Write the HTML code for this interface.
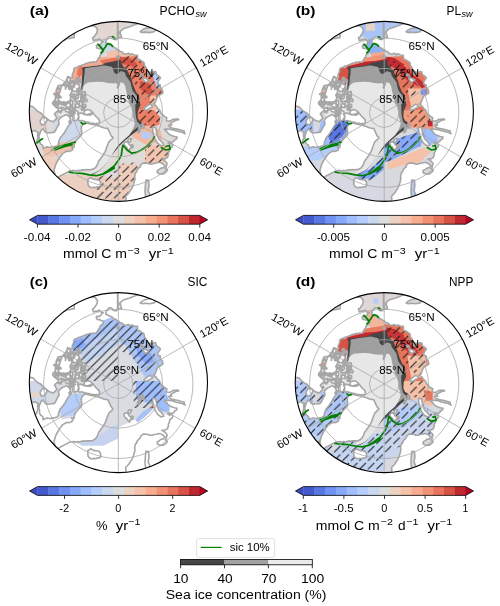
<!DOCTYPE html>
<html><head><meta charset="utf-8"><style>html,body{margin:0;padding:0;background:#fff;overflow:hidden}svg{display:block;font-family:"Liberation Sans",sans-serif;font-kerning:none;will-change:transform}</style></head><body>
<svg width="500" height="606" viewBox="0 0 500 606" font-family="Liberation Sans, sans-serif"><defs><clipPath id="clip0"><ellipse cx="118.4" cy="111.4" rx="89.1" ry="90.0"/></clipPath><clipPath id="clip1"><ellipse cx="384.3" cy="111.4" rx="89.1" ry="90.0"/></clipPath><clipPath id="clip2"><ellipse cx="118.4" cy="382.6" rx="89.1" ry="90.0"/></clipPath><clipPath id="clip3"><ellipse cx="384.3" cy="382.6" rx="89.1" ry="90.0"/></clipPath></defs>
<defs><path id="land" d="M-93.9,-78.8 L-91.9,-78.5 L-90,-78.2 L-88.1,-77.9 L-86.2,-77.6 L-84.3,-77.2 L-82.4,-76.8 L-80.5,-76.4 L-78.7,-76 L-76.9,-75.5 L-75.1,-75.1 L-73.5,-74.4 L-71.9,-73.6 L-70.4,-72.9 L-68.9,-72.1 L-67.3,-71.4 L-65.8,-70.6 L-63.5,-70.6 L-61.3,-70.5 L-59,-70.3 L-57,-70.8 L-55.4,-72.2 L-53.4,-72.7 L-51.7,-73.9 L-50,-74.2 L-48.3,-74.3 L-46.3,-75 L-44.2,-75 L-44.1,-76.9 L-44,-78.8 L-43.8,-80.7 L-44.2,-82.3 L-44.6,-83.8 L-43.3,-86.3 L-42,-88.7 L-41.3,-89.9 L-40.6,-91.1 L-39.6,-92.5 L-38.4,-93.8 L-36.9,-94.8 L-36.1,-96.4 L-35,-97.9 L-33.6,-99 L-32.3,-100.3 L-31,-101.5 L-32,-100.5 L-32.7,-99.3 L-34.4,-97 L-35.9,-94.8 L-37.4,-92.5 L-37.2,-90.6 L-37,-88.7 L-36.9,-86.8 L-35.1,-87.1 L-33.9,-88.4 L-32.4,-89.1 L-30.9,-89.8 L-29.6,-88.5 L-28.4,-87.3 L-26.9,-87.5 L-25.6,-86.7 L-24.1,-86.9 L-22.5,-85.7 L-21.6,-84.4 L-20.7,-83 L-21.2,-81.2 L-21.6,-79.5 L-22.7,-78.2 L-23.5,-76.7 L-24.4,-75.6 L-25.8,-75 L-25.3,-73.5 L-24.8,-72 L-22.3,-72.9 L-20.5,-72.8 L-19.1,-73.8 L-17.3,-72 L-15,-71.2 L-16.6,-70.5 L-17.2,-68.8 L-19.3,-67.3 L-21.9,-67.5 L-21.7,-65 L-20.2,-64.2 L-18.5,-64.4 L-16.8,-63.1 L-14.7,-62.8 L-15,-60.9 L-16.2,-59.4 L-17.8,-58.2 L-18.5,-56.9 L-18.5,-55.4 L-19.9,-54.7 L-20.4,-53.2 L-21.4,-52 L-22,-50.6 L-23.4,-50.7 L-24.8,-50.9 L-26.4,-50.2 L-28,-50.6 L-29.5,-50 L-31,-49.6 L-32.5,-49.1 L-33.9,-48.4 L-35.9,-47.7 L-37.9,-46.8 L-39.7,-46.7 L-40.9,-45.5 L-43.3,-44.9 L-44.6,-43.4 L-44.5,-41.5 L-45.2,-40 L-45.9,-38.6 L-46.2,-36.9 L-45.4,-35.4 L-46.8,-34.9 L-48.3,-35.1 L-51,-34.4 L-52,-33 L-52.2,-31.4 L-53.4,-30.5 L-54.4,-29.6 L-55.1,-28.1 L-56.6,-27.6 L-58.5,-27.3 L-60.3,-26.9 L-61.2,-24.7 L-62.1,-22.6 L-62.2,-20.2 L-62.3,-17.9 L-62.6,-16.1 L-62.3,-14.4 L-63.1,-13 L-64.1,-11.9 L-65.3,-10.8 L-65.7,-9.2 L-64.8,-7.8 L-63.6,-6.7 L-62.2,-5.4 L-60.7,-4.2 L-59.2,-4.4 L-57.7,-4.5 L-56.2,-4.7 L-54.6,-4.8 L-53.2,-4.2 L-54.7,-3.1 L-56.3,-2 L-57.8,-1.9 L-59.3,-1.7 L-60.9,-1.6 L-62.4,-0.3 L-63.9,1.1 L-62.6,3.3 L-61.3,5.4 L-63.1,7.2 L-64.8,9.1 L-66.4,8.5 L-68,8 L-69.7,7.3 L-71.3,6 L-73,4.7 L-74.6,3.3 L-76.2,1.7 L-77.7,0 L-79.3,-0.7 L-80.8,-1.4 L-82.3,-2.9 L-83.8,-4.4 L-85.3,-6 L-86.8,-6.3 L-88.4,-6.7 L-89.9,-7.1 L-92,-7 L-94.1,-6.9 L-95.9,-6.1 L-97.8,-5.2 L-99.6,-4.4 L-99.9,-2.7 L-101.3,-1.8 L-102.1,-0.4 L-102.9,0.9 L-104.2,2 L-104.5,3.6 L-106.1,4.2 L-107.7,4.8 L-109.3,5.4 L-110.9,6 L-112.5,6.6 L-114.1,7.2 L-115.7,7.9 L-117.3,8.6 L-118.9,9.3 L-120.5,10 L-122.1,10.7 L-121.5,12.3 L-121.5,14 L-121.5,15.6 L-121.8,17.4 L-120.6,18.9 L-120.8,20.6 L-120.6,22.2 L-119.8,23.8 L-119.9,25.5 L-118.2,25.1 L-116.6,24.8 L-115,24.4 L-113.4,24.1 L-111.8,23.8 L-110.2,23.4 L-108.6,23.1 L-107,22.7 L-105.4,22.4 L-103.8,22.1 L-102.3,21.7 L-100.7,21.4 L-99.1,21.1 L-97.6,20.7 L-96,20.4 L-94.4,20.1 L-92.8,19.9 L-91.2,19.8 L-89.7,19.7 L-88.1,19.5 L-86.6,18.9 L-85.1,18.4 L-83.6,17.8 L-81.8,18.9 L-79.9,19.9 L-80.7,21.4 L-80.6,23 L-80.3,24.5 L-81.1,27.1 L-81.8,29.8 L-83.2,30.5 L-84.6,31.2 L-86.1,32 L-87.5,32.7 L-87.4,34.2 L-86.8,35.6 L-87.4,37.1 L-85.1,37.6 L-82.9,37.9 L-80.6,38.3 L-81.8,40 L-83,41.7 L-84.1,43.5 L-85.2,45.3 L-86.4,46.6 L-87.5,47.8 L-88.6,49.1 L-89.7,50.4 L-90.8,51.7 L-91.9,53.1 L-93.3,53.9 L-94.7,54.7 L-96.2,55.5 L-97.6,56.3 L-99,57.1 L-100.4,58 L-101.8,58.8 L-103.3,59.6 L-104.7,60.4 L-106.1,61.3 L-107.6,62.1 L-109,62.9 L-110.5,63.8 L-111.9,64.6 L-113.4,65.5 L-114.9,66.3 L-116.3,67.2 L-117.8,68 L-119.3,68.9 L-120.8,69.7 L-121.8,68.3 L-122.5,66.7 L-123.3,65.2 L-123.5,63.3 L-125.4,62.3 L-125.7,60.5 L-126.3,58.9 L-126.8,57.2 L-127.8,55.8 L-128.4,54.1 L-128.8,52.4 L-129.8,51 L-130.4,49.3 L-130.4,47.5 L-131.6,46.1 L-132,44.4 L-132.6,42.7 L-133.3,41.1 L-133.8,39.5 L-134.1,37.7 L-134.7,36.1 L-135.3,34.4 L-135.4,32.7 L-136,31 L-136.6,29.4 L-137.1,27.7 L-137,25.9 L-137.8,24.3 L-137.5,22.5 L-137.9,20.8 L-137.9,19 L-138.4,17.3 L-138.6,15.6 L-139.3,13.9 L-138.6,12.1 L-139.1,10.4 L-138.6,8.7 L-138.7,6.9 L-139.4,5.2 L-138.9,3.5 L-138.9,1.7 L-139.5,0 L-138.8,-1.7 L-139.3,-3.5 L-139.4,-5.2 L-139.4,-7 L-138.9,-8.7 L-139.1,-10.4 L-139.2,-12.2 L-138.3,-13.8 L-138.6,-15.6 L-137.9,-17.3 L-137.6,-19 L-137.9,-20.8 L-137.5,-22.5 L-136.7,-24.1 L-137,-25.9 L-136.6,-27.6 L-136.4,-29.3 L-136,-31 L-135.3,-32.7 L-134.5,-34.2 L-134.7,-36.1 L-133.7,-37.6 L-133.4,-39.3 L-133.3,-41.1 L-133.3,-42.9 L-132,-44.4 L-131.6,-46.1 L-131.1,-47.7 L-130.3,-49.3 L-129.8,-51 L-128.7,-52.4 L-128.8,-54.3 L-127.8,-55.8 L-126.8,-57.2 L-126.9,-59.2 L-125.7,-60.5 L-125.2,-62.2 L-123.7,-63.4 L-123.3,-65.2 L-122.7,-66.8 L-121.2,-68 L-120.8,-69.7 L-120.4,-71.4 L-119.5,-72.8 L-118.3,-73.9 L-117.2,-75.1 L-117,-77 L-115.6,-78 L-114.6,-79.3 L-113.3,-80.3 L-112.8,-82 L-111.8,-83.2 L-110.7,-84.4 L-109.9,-85.9 L-109.4,-87.5 L-107.7,-88.3 L-106.8,-89.6 L-105.5,-88.5 L-104.2,-87.4 L-102.9,-86.3 L-101.6,-85.3 L-100.3,-84.2 L-99,-83.1 L-97.7,-82 L-96.4,-80.9 L-95.2,-79.8ZM-63,65.5 L-63.3,62.9 L-63.6,60.4 L-64.3,58.6 L-64,56.7 L-63.5,54.9 L-63,53.1 L-62.4,51.4 L-61.5,49.6 L-60.5,47.8 L-59.4,46 L-58.2,44.2 L-56.9,42.5 L-55.5,40.7 L-54,39.9 L-52.6,39.1 L-51.2,38.3 L-49.6,38.9 L-48,38.4 L-45.7,37 L-45.9,35.4 L-46.8,34 L-44.4,34.7 L-44.1,32.6 L-43.7,30.6 L-42.3,28.3 L-41.1,26.9 L-39.9,25.4 L-38.9,24.3 L-37.8,23.2 L-36.7,22.1 L-36.7,20.3 L-36.6,18.6 L-36.9,16.5 L-37.1,14.5 L-36.1,12.9 L-35.1,11.4 L-33,10.1 L-30.7,10.6 L-28.9,11.1 L-27.1,11.5 L-25.4,11.8 L-23.6,12 L-22.2,12.5 L-20.9,12.9 L-19.5,13.2 L-18.6,13.5 L-17.8,13.9 L-16.9,14.2 L-16.1,14.5 L-15.3,14.8 L-14.6,15.1 L-13.8,15.3 L-12.9,15.5 L-12,15.6 L-11.1,15.7 L-10.3,15.8 L-10,16.6 L-9.7,17.5 L-9.3,18.3 L-8.8,19.4 L-8.3,20.5 L-7.7,21.8 L-7.1,23.1 L-6.2,23.9 L-5.3,24.8 L-6,26.1 L-7.2,27 L-8.4,28.2 L-9.6,29.4 L-10.1,30.8 L-10.7,32.2 L-11.2,33.6 L-11.7,35 L-12.2,36.4 L-12.6,37.8 L-13.3,39.1 L-14.1,40.5 L-14.8,41.8 L-15.7,43.1 L-16.6,44.3 L-17.5,45.6 L-18.4,46.8 L-19.4,48 L-20,49.4 L-20.5,50.8 L-21.1,52.2 L-21.9,53.5 L-22.7,54.9 L-24.3,55.8 L-25.9,56.8 L-27.4,56.9 L-28.8,57 L-30.3,57 L-32,56.9 L-33.8,57.3 L-35.6,57 L-37.3,57.5 L-39,58.1 L-40.8,57.7 L-42.6,58.3 L-44.4,57.7 L-46.7,58.1 L-49,58.4 L-50.4,59.2 L-51.9,60 L-53.4,60.7 L-54.8,61.5 L-56.3,62.3 L-57.8,63 L-59.1,63.9 L-60.5,64.8ZM-75.2,35.9 L-73.4,35 L-71.6,34.1 L-69.7,34.4 L-67.9,34.6 L-66.3,34.3 L-64.7,34 L-63.1,33.7 L-61,33.1 L-59.9,31.7 L-59.9,29.9 L-59,27.5 L-58.1,25.2 L-56.7,23.5 L-55.2,21.8 L-54.2,20.3 L-53.1,18.8 L-52.2,16.9 L-51.1,15.1 L-50.1,13.4 L-48.9,11.7 L-47.8,10.2 L-47.6,8 L-48.1,6.1 L-48.6,4.3 L-50.2,3.1 L-51.8,1.8 L-53.3,2.5 L-54.7,3.2 L-56.2,3.9 L-57.6,5 L-59,6.2 L-59.9,7.7 L-59.5,9.4 L-59.2,11.2 L-60.1,12.8 L-61.4,15 L-62.5,17.3 L-64,19.6 L-65.6,19.7 L-67.1,19.9 L-69,20.1 L-70.9,20.3 L-72.8,19.5 L-74.1,17.8 L-75.4,16 L-77.3,17.8 L-78.3,20.2 L-79.2,22.7 L-79.4,24.6 L-78.7,26.3 L-78.9,28.2 L-78.4,30.1 L-77.5,31.4 L-76.1,32.2 L-75.3,33.5ZM-76.8,12.2 L-77.8,10.3 L-78.2,8.2 L-77.1,6.5 L-76,4.7 L-74,4.9 L-72,5 L-71.2,7.5 L-72.5,9.5 L-73.7,11.7 L-75.2,11.9ZM-44.6,-31.8 L-43,-30.7 L-41.5,-29.6 L-40.1,-28.1 L-38.8,-26.6 L-39.1,-23.9 L-40.2,-22.5 L-41.4,-21.1 L-43.1,-21.3 L-44.9,-21.4 L-46.1,-23.3 L-47.4,-25.2 L-48.1,-26.7 L-48,-28.3 L-46.4,-30.1ZM-56.6,-26.4 L-57.4,-24.2 L-58.1,-22 L-58.7,-19.8 L-59.3,-17.6 L-59.8,-14.9 L-60.3,-12.3 L-58.6,-11.4 L-56.9,-10.5 L-55.4,-10.5 L-53.8,-10.5 L-52.3,-10.4 L-50.8,-10.3 L-49.3,-11.5 L-48,-12.9 L-47.5,-14.4 L-47.7,-16 L-48.4,-17.6 L-47.5,-19.2 L-46.5,-20.7 L-46.7,-23.1 L-46.9,-25.4 L-48.6,-25.3 L-50,-26 L-51.3,-26.7 L-52.5,-25.3 L-52.9,-23.5 L-52.6,-25.1 L-53.2,-26.4 L-53.8,-27.8 L-55.5,-27.6ZM-54.2,-8.6 L-52.9,-7 L-51.5,-5.4 L-49.4,-5.6 L-47.3,-5.8 L-47.6,-8 L-49.1,-9.3 L-50.7,-10.8 L-52.3,-10.6 L-53.8,-10.5ZM-53.2,-3.7 L-52.7,-1.4 L-50.8,-0.7 L-48.8,0 L-47.3,-2.1 L-47.7,-4.4 L-49.2,-4.7 L-50.7,-4.9ZM-63.4,-7.8 L-62.3,-6.8 L-61.9,-5.4 L-60.3,-6.2 L-59.8,-7.9 L-60.1,-9.5 L-62.2,-9.9ZM-43.9,-12.2 L-41.8,-10.8 L-39.7,-11.6 L-37.6,-12.2 L-37.6,-13.7 L-37.5,-15.2 L-37.3,-17 L-37.1,-18.9 L-39.5,-20.1 L-41,-18.7 L-42.5,-17.2 L-42.5,-15.7 L-42.6,-14.3ZM-36.7,-20.3 L-35.6,-18.3 L-34.4,-16.4 L-32.6,-17.3 L-32.9,-19.2 L-33.1,-21.1 L-34.9,-20.8ZM-43.3,-6.1 L-41.3,-5.6 L-39.2,-5.2 L-39.1,-7.6 L-40.4,-8.6 L-41.7,-9.6 L-42.6,-7.9ZM-45.4,-4 L-42.7,-3.4 L-42.9,-4.9 L-44.9,-5.1ZM-45.1,8 L-43.2,7.8 L-41.2,7.6 L-40.5,5.9 L-39.6,4.2 L-39.6,2.4 L-39.5,0.7 L-40.7,-1.4 L-42.8,-2.2 L-44.9,-1.6 L-45.1,0 L-45.3,1.6 L-45.4,3.2 L-45.4,4.8 L-45.3,6.4ZM-39.8,7 L-39.6,5.6 L-39.3,4.1 L-40.1,2.5 L-40.7,0.7 L-38.8,0.5 L-36.9,0.3 L-35.4,1.1 L-33.9,1.8 L-32.4,2 L-30.9,2.2 L-29.4,2.3 L-27.9,2.4 L-26.5,1.4 L-25,0.4 L-24.2,1.5 L-23.4,2.5 L-22.7,3.3 L-22,4.1 L-21.2,4.8 L-20.5,5.5 L-19.8,6.2 L-19.1,6.9 L-19,7.7 L-18.9,8.4 L-18.8,9.2 L-18.7,9.9 L-19.8,11 L-22,10.7 L-23.5,11.2 L-24.9,10.6 L-26.6,10.5 L-28.2,10.3 L-29.5,9.6 L-31,9.5 L-33.3,8.9 L-35,8.4 L-36.7,7.8 L-39,8.3ZM-34.5,1.2 L-32.7,1.6 L-30.9,1.9 L-29.4,1.4 L-28,1 L-25.6,-0.4 L-26.8,-1.4 L-27.9,-2.4 L-29.3,-2.8 L-30.8,-3.2 L-32.3,-2.5 L-33.9,-1.8 L-34.2,-0.3ZM-35.6,-6.9 L-34.1,-6.2 L-32.6,-5.4 L-32.6,-6.8 L-32.6,-8.1 L-34.3,-8.6ZM-36.5,-2.6 L-33.8,-3 L-33.9,-4.8 L-36,-4.7ZM-34.4,-12.5 L-33.1,-11.7 L-31.8,-10.9 L-30.9,-12.5 L-32.6,-14.5 L-33.5,-13.5ZM-48.5,10.8 L-46.9,10 L-47.9,7.6 L-49.3,8.7ZM0,106.2 L1.1,104.5 L2.2,102.9 L3.3,101.3 L4.4,99.6 L5.4,98 L6.3,96.3 L7.2,94.7 L8.1,93 L8,91.4 L7.9,89.9 L7.7,88.3 L7.6,86.7 L7.5,85.2 L7.3,83.6 L9,81.9 L10.6,80.1 L11.7,78.4 L12.8,76.7 L13.9,74.9 L14.6,73.2 L15.2,71.5 L15.7,69.8 L16.2,68.1 L16.6,66.5 L16.5,64.9 L16.4,63.4 L16.8,61.7 L17.2,60 L18.4,59.1 L18.7,57.6 L19.8,56 L21.9,54.2 L22.6,51.9 L24.4,50.5 L26.2,50.2 L28.5,50.4 L30.6,50.9 L31.5,51.4 L33.9,51.3 L36.1,50.6 L37.9,50.4 L39.6,49.8 L41.7,49.7 L43.3,50.5 L44.9,51.3 L46.5,53.2 L45.3,55 L43.8,55.2 L42.3,55.6 L41.2,56.7 L39,57.8 L39,60 L40.6,60.8 L42.3,61.5 L43.8,61 L45.3,61.2 L46.9,60 L48.1,58.9 L49.1,57.5 L47,56 L48,54.8 L47.9,53.2 L48.8,51.9 L48.6,50.4 L47.6,49.3 L46.5,48.2 L45.1,47.2 L43.6,46.3 L45.6,46.2 L47.5,45.9 L49.3,44.4 L50.1,42.1 L50.1,40.2 L51.1,38.5 L51.4,36 L52.7,34.8 L54.2,33.9 L54.3,32 L53.3,30.7 L52.2,29.5 L54,29.3 L55.5,28.8 L56.1,27.4 L58.4,26 L58.8,24.3 L56,23.8 L54.6,23.3 L53.2,22.8 L51.8,22.1 L50.5,21.4 L49.4,20 L48.4,18.6 L47.1,17.6 L45.9,16.7 L47.6,16.4 L49.1,16.4 L50.7,16.5 L52.2,16.7 L53.7,16.9 L55.2,17.4 L56.6,17.9 L58.1,18.3 L59.6,18.6 L61,19 L62.5,19.3 L64,19.6 L65.4,20.3 L66.8,21.1 L65.9,19.8 L66,18.3 L64.5,17.9 L63.1,17.5 L61.6,17.1 L60.1,16.7 L58.6,16.4 L57.1,16.1 L55.6,15.8 L54.2,15.5 L52.8,14.9 L51.4,14.3 L50.3,12.5 L51.9,12.4 L53.4,12.3 L52.3,10.6 L54,9.5 L55.7,8.6 L57.4,7.6 L58.9,7.2 L60.5,6.9 L59,6.2 L57.5,6.4 L56,6.5 L54.4,6.7 L52.8,7.7 L51.1,8.6 L49.6,8.3 L48.1,8.1 L48.1,6.5 L48.6,5.1 L47.1,4.1 L45.7,3.2 L44.3,1.9 L42.8,0.7 L42.1,-1.1 L41.2,-2.9 L39.6,-4.2 L38.7,-5.4 L37.8,-6.7 L36.5,-7.9 L35.2,-9 L36.7,-9.8 L37.3,-11.4 L38,-13.1 L38.6,-14.8 L39.4,-16.7 L40.8,-17.4 L42.1,-18.1 L43.4,-18.9 L44.6,-19.9 L44.3,-21.6 L43.9,-23.3 L42.1,-24.8 L41.9,-26.3 L42,-27.8 L39.5,-28.7 L39.5,-30.5 L40.3,-32.1 L41.2,-33.4 L42.1,-34.7 L41.1,-36.3 L38.8,-37.5 L37.9,-39.1 L37.5,-40.9 L36,-41.3 L34.6,-40.6 L32.6,-40.3 L30.9,-41 L29.2,-41.7 L28.4,-43.1 L27.9,-44.7 L27,-45.9 L26.1,-47.2 L26,-48.7 L25.6,-50.2 L23.9,-51.3 L22.3,-52.4 L20.9,-53.2 L19.4,-53.2 L19.3,-55.3 L19.2,-57.5 L16.5,-57.7 L15.1,-58.3 L13.6,-59 L12.3,-57.8 L10.5,-59.4 L8.3,-58.8 L6.6,-58.5 L5.2,-59.4 L4.1,-60.4 L2.9,-61.1 L1.4,-61.4 L0.5,-62.7 L-1.2,-63.1 L-2.3,-64.5 L-4.2,-65.1 L-5.8,-66.4 L-7.3,-67.4 L-8.9,-67.9 L-11,-69.2 L-12.7,-70.1 L-12.1,-72.1 L-11.5,-73.5 L-10.5,-74.5 L-9.1,-76 L-6.6,-75.9 L-5.2,-73.8 L-3.6,-73.2 L-1.9,-73.1 L-0.6,-74.6 L1.3,-75.2 L3.3,-75.5 L2.7,-77.4 L2.1,-79.3 L1.7,-81.1 L1.3,-83 L2.3,-84.1 L3.6,-84.9 L5.1,-84.9 L6.6,-85.2 L8,-85.6 L9.1,-86.6 L10.6,-87.6 L12.3,-87.8 L13.9,-88.7 L15.7,-88.8 L16.9,-89.8 L18.5,-89.2 L19.9,-89.6 L21.3,-90.1 L22.7,-90.5 L24.2,-90.2 L24.6,-91.7 L25,-93.3 L25.4,-94.8 L25.8,-96.3 L26.2,-97.9 L26.6,-99.4 L27.1,-101 L27.5,-102.5 L27.9,-104.1 L28.3,-105.7 L28.7,-107.2 L29.2,-108.8 L29.6,-110.4 L30,-112 L30.4,-113.6 L30.9,-115.2 L31.3,-116.8 L31.7,-118.4 L32.1,-120 L32.6,-121.6 L33,-123.2 L33.5,-124.8 L33.9,-126.5 L34.3,-128.1 L34.8,-129.8 L35.2,-131.4 L35.7,-133.1 L36.1,-134.7 L37.7,-134 L39.4,-133.6 L41.1,-133.3 L42.8,-132.8 L44.6,-132.6 L46.1,-131.6 L47.6,-130.9 L49.3,-130.4 L51,-129.8 L52.6,-129.2 L54.3,-128.9 L55.8,-127.8 L57.1,-126.6 L58.7,-125.9 L60.5,-125.7 L61.9,-124.6 L63.3,-123.5 L65.2,-123.3 L66.6,-122.4 L68.3,-121.8 L69.7,-120.8 L71.5,-120.3 L72.6,-118.9 L74.2,-118.1 L75.6,-117.1 L77.2,-116.3 L78.6,-115.2 L79.6,-113.7 L81.1,-112.8 L82.8,-112.2 L84.5,-111.6 L85.2,-109.7 L87,-109 L88.7,-108.5 L89.5,-106.7 L91,-105.7 L92.4,-104.7 L93.4,-103.2 L94.9,-102.2 L95.7,-100.6 L97.3,-99.8 L98.6,-98.6 L99.6,-97.1 L101.5,-96.5 L102.2,-94.9 L103.2,-93.4 L105,-92.6 L105.7,-91 L106.9,-89.7 L108.1,-88.4 L109,-87 L110.6,-85.9 L110.9,-84 L112.2,-82.8 L113.7,-81.7 L114.5,-80.2 L115.2,-78.6 L116.7,-77.4 L116.9,-75.5 L118.1,-74.2 L119.2,-72.9 L120.4,-71.6 L120.8,-69.7 L122.2,-68.5 L122.8,-66.9 L123.3,-65.2 L124.1,-63.6 L125.5,-62.4 L125.7,-60.5 L127,-59.2 L126.9,-57.3 L127.8,-55.8 L128.5,-54.2 L129.6,-52.8 L129.8,-51 L130.7,-49.4 L131.5,-47.9 L131.6,-46.1 L132.5,-44.5 L132.9,-42.8 L133.3,-41.1 L134.1,-39.5 L134.6,-37.9 L134.7,-36.1 L135.5,-34.5 L135.8,-32.8 L136,-31 L136.2,-29.3 L136.1,-27.5 L137,-25.9 L137.1,-24.2 L137.7,-22.5 L137.9,-20.8 L138.8,-19.2 L138.8,-17.4 L138.6,-15.6 L138.6,-13.9 L139,-12.2 L139.1,-10.4 L138.7,-8.7 L138.7,-6.9 L139.4,-5.2 L139.7,-3.5 L139.6,-1.7 L139.5,0 L139.7,1.7 L139.2,3.5 L139.4,5.2 L139.8,7 L139.5,8.7 L139.1,10.4 L138.4,12.1 L138.9,13.9 L138.6,15.6 L137.7,17.3 L138.3,19.1 L137.9,20.8 L137.2,22.4 L137.4,24.2 L137,25.9 L137.2,27.7 L136.2,29.3 L136,31 L135.9,32.8 L134.6,34.3 L134.7,36.1 L134,37.7 L133.7,39.4 L133.3,41.1 L132.2,42.6 L132.1,44.4 L131.6,46.1 L130.4,47.5 L130.1,49.2 L129.8,51 L129.6,52.7 L128.8,54.3 L127.8,55.8 L126.7,57.1 L126.9,59.2 L125.7,60.5 L124.3,61.8 L124.7,63.9 L123.3,65.2 L122.2,66.5 L121.5,68.1 L120.8,69.7 L120,71.3 L118.9,72.6 L118.1,74.2 L117,75.6 L116.3,77.2 L115.2,78.6 L114.5,80.2 L113.7,81.8 L112.2,82.8 L111,84.1 L109.7,85.3 L109,87 L108.1,88.4 L106.4,89.3 L105.7,91 L104.7,92.4 L103.7,93.8 L102.2,94.9 L100.7,95.8 L99.4,97 L98.6,98.6 L97.8,100.2 L95.8,100.7 L94.9,102.2 L93.7,103.6 L92,104.3 L91,105.7 L89.8,107 L87.9,107.4 L87,109 L85.7,110.3 L84.4,111.5 L82.8,112.2 L81.8,113.7 L80.3,114.6 L78.6,115.2 L77.4,116.7 L75.4,116.8 L74.2,118.1 L73.1,119.6 L71.5,120.3 L69.7,120.8 L68.4,121.9 L66.9,122.9 L65.2,123.3 L63.4,123.7 L62.4,125.5 L60.5,125.7 L58.8,126.1 L57.4,127.3 L55.8,127.8 L54.4,129 L52.7,129.5 L51,129.8 L49.3,130.4 L47.8,131.4 L46.1,131.6 L44.5,132.3 L42.8,132.9 L41.1,133.3 L39.4,133.7 L37.7,134 L36.1,134.7 L34.5,135.4 L32.7,135.4 L31,136 L29.3,136 L27.7,137 L25.9,137 L24.2,137 L22.6,138.2 L20.8,137.9 L19.1,138.1 L17.4,138.6 L15.6,138.6 L13.9,139.3 L12.1,138.7 L10.4,139.1 L8.7,138.7 L7,139.3 L5.2,139.4 L3.5,139.6 L1.7,138.9 L0,139.5 L0,137.7 L0,136 L0,134.3 L0,132.6 L0,130.9 L0,129.2 L0,127.6 L0,125.9 L0,124.2 L0,122.5 L0,120.9 L0,119.2 L0,117.6 L0,115.9 L0,114.3 L0,112.7 L0,111 L0,109.4 L0,107.8ZM-27.2,74.8 L-29,73.9 L-30.2,72.3 L-30.4,70.5 L-30.5,68.8 L-30.3,66.5 L-28.8,65.9 L-27.5,64.7 L-26.3,65.8 L-24.8,66.5 L-23.5,66.7 L-22.1,66.9 L-19.3,67.3 L-17.9,69.3 L-17.7,70.9 L-17.4,72.6 L-18.4,73.7 L-19.9,74.2 L-21.5,74.2 L-22.9,74.9 L-24.3,74.5 L-25.8,74.8ZM11.3,38.2 L10.1,37 L8.9,35.8 L8.3,34.3 L6.9,33.8 L6.2,32.1 L5.6,30.4 L6.5,29.3 L8.3,28.9 L9.7,30 L11,32.1 L12.7,33 L12.7,34.6 L11.7,35.9ZM10,29.9 L9.9,28.4 L9.8,26.8 L10.6,26.4 L11.5,25.8 L13.4,26.2 L12.6,27.7 L11.8,29.2ZM13.5,35.3 L13.4,33.7 L13.3,32.1 L14.8,32.5 L14.9,34.4ZM20.2,20.2 L19.1,18.8 L19.8,18 L20.5,17.2 L21.8,18 L21,19.1ZM21.6,16.9 L20.3,15.6 L21.5,14.5 L22.9,15.5 L22.3,16.2ZM20.5,14.4 L20,13 L21.2,12.2 L21.7,13.6ZM25.2,15.8 L23.7,14.3 L24.1,13.3 L24.4,12.4 L26,13.2 L25.6,14.5ZM24,12.5 L23.1,11.8 L23.9,10.7 L24.9,11.4ZM51.4,31.5 L49.7,30.2 L51.1,28.9 L52.1,29.7ZM34.3,-6 L32.5,-5 L30.7,-4 L29.3,-3.2 L27.9,-2.4 L25.7,-3.2 L26.1,-4.6 L27.4,-5.6 L28.7,-6.6 L30,-7.5 L31.3,-8.4 L33.3,-7.7ZM30.6,-32.9 L29.2,-31.6 L27.7,-30.3 L25.8,-31.9 L25.1,-33.4 L24.4,-34.8 L26.1,-34.7 L28.5,-34ZM25.1,-37.2 L23,-36.8 L21.7,-38.3 L23.3,-38.8ZM31.8,-37.9 L29.7,-38 L29.2,-39.5 L31,-39.7ZM-1.5,-56.3 L-0.1,-54.8 L1,-54.8 L1.5,-56 L0,-56.9ZM34.8,14.2 L37.5,15.1 L38.4,20.5 L40.2,25.9 L43.8,29.5 L45.6,32.2 L42.9,33.1 L39.3,30.4 L36.6,25.9 L34.8,20.5 L34.3,16ZM-43.7,-0.9 L-43,0.6 L-45,1.5 L-47.7,0.8 L-47.5,-1.3ZM-39.1,-18.1 L-40.3,-17.7 L-41.1,-18.3 L-41.1,-18.9 L-41.2,-19.7 L-39.6,-19.5 L-38.6,-19.2 L-37.5,-18.5ZM-39.4,-30.6 L-40.3,-29.2 L-43.3,-29.1 L-45.2,-30.1 L-44.2,-31.2 L-41.5,-31.7ZM-36.7,-14.3 L-37,-16.1 L-36,-17.1 L-35.1,-16.1 L-34.6,-14.9 L-34.7,-13.4 L-35.5,-12.8 L-36.3,-13.1ZM-33,-14.1 L-35,-13.8 L-36.3,-15.5 L-36.3,-18.3 L-34.3,-18.2 L-33,-16.9ZM-44.9,2.7 L-45.7,3.4 L-47.9,3.5 L-49.8,2.8 L-48.4,1.9 L-46.7,1.2 L-44.7,1.9ZM-61.1,-24.6 L-59.2,-24.8 L-58,-23.7 L-59.8,-23.2 L-61.7,-23.5ZM-37.9,-21.6 L-39.8,-21.3 L-41.1,-21.9 L-41.3,-22.5 L-41.3,-23.4 L-39.1,-23.3 L-38.1,-22.8 L-36.6,-22.3ZM-34.8,-12.9 L-34.5,-11.8 L-34.7,-10.5 L-35.5,-10 L-36,-10.8 L-36.8,-11.6 L-36.2,-12.7 L-35.6,-13.5ZM-47.8,-5.4 L-44.9,-5.1 L-45.1,-3.2 L-47.2,-2.1 L-49.2,-2.9 L-51.2,-3.7 L-49.9,-5ZM-44.6,-13.9 L-46.2,-15.5 L-44.4,-16.8 L-42.2,-17.8 L-39.7,-16.7 L-39.8,-14.8 L-41.7,-13.3ZM-49.9,-28.9 L-50.8,-30.8 L-51.2,-33.3 L-50.7,-36.2 L-49.3,-35.9 L-47.9,-34.9 L-48.3,-31.9 L-48.7,-29.6ZM-47.4,-7.9 L-46.6,-8.1 L-46.3,-6.8 L-46.4,-5.3 L-47.1,-4.7 L-47.5,-6.1ZM-49.4,-26.9 L-51,-29 L-46.7,-30.2 L-43,-28.9 L-43.8,-26.8ZM-47.4,-25.3 L-47.8,-24.1 L-48.5,-23.2 L-49.6,-23.6 L-50,-25.1 L-49.3,-26.2 L-48.2,-26ZM-37,-4.7 L-36.1,-5.7 L-34.1,-5.6 L-33.8,-4.3 L-34.4,-3.3 L-35.9,-3.2 L-37.1,-3.7ZM-46.4,-22 L-47.4,-24.7 L-48.4,-27.2 L-47.2,-29.4 L-46.4,-29.9 L-45.2,-30.3 L-44.4,-27.2 L-45.5,-24.8ZM-59.7,-13.6 L-60.8,-10.1 L-63,-12.1 L-62.9,-16.6 L-60.8,-16.1ZM-56.4,-2.6 L-57.5,0.1 L-59.9,-0.7 L-60.1,-3.8 L-58.6,-4.8 L-56.7,-5.4ZM-52.6,-10.3 L-51.1,-9.4 L-51.8,-8.1 L-54.1,-7.4 L-56.3,-8.1 L-58,-9 L-56.5,-10 L-54.7,-10.2ZM-36.4,-10.2 L-36.1,-8.2 L-36.8,-6.5 L-37.9,-6.5 L-38.6,-7.7 L-39.1,-9.5 L-38.6,-11.6 L-37.4,-10.7ZM-39.8,-33.4 L-41,-33.4 L-42.4,-33.5 L-42.1,-34.5 L-41.6,-35.1 L-40.5,-35.5 L-39.8,-34.8 L-39.5,-34.2ZM-45.6,0.6 L-46.7,3.3 L-48.2,2.9 L-49.2,0.1 L-48.3,-3.6 L-46.7,-1.8ZM-58.7,-10.6 L-59,-9.1 L-60,-7.8 L-61.9,-8.3 L-63.6,-9.4 L-62.6,-10.9 L-60.7,-10.9ZM-44.8,-29.2 L-45,-26.6 L-46.1,-25.4 L-47.6,-24.9 L-48.6,-27.4 L-47.8,-30.1 L-46.9,-32.3 L-45.5,-31.7ZM-52.4,-28.2 L-53.3,-29.6 L-52.7,-31.3 L-51.6,-32.2 L-50.6,-31.4 L-49.3,-30.3 L-49.9,-28.3 L-51.1,-27ZM-45.6,-8.3 L-46.1,-6.8 L-47.1,-6.2 L-48.2,-7.7 L-47.9,-10.8 L-47,-12.1 L-46.1,-12.3 L-45.5,-10.4ZM-57.2,-15.2 L-59.3,-14.8 L-61.2,-15.1 L-60.8,-16 L-59.7,-16.8 L-57.6,-16.3ZM-39.6,-25.2 L-38.3,-24.6 L-37.7,-23.4 L-39.1,-23.1 L-40.3,-23.8ZM-41.6,-33.2 L-39.7,-34.1 L-38.1,-32.9 L-39.1,-31.6 L-41,-32.1ZM-38.9,-33.4 L-37.2,-32.7 L-36.8,-31.7 L-37.7,-30.4 L-39,-31.6ZM-61.4,-19.3 L-60.4,-18.3 L-63.1,-17.7 L-64.6,-18.7 L-63.6,-19.5ZM-46.5,-17.6 L-45.6,-18.6 L-44.1,-18.7 L-43.7,-17.3 L-43.6,-16.2 L-44.4,-15 L-45.6,-15.7 L-46.1,-16.4ZM-55.8,-9 L-54.9,-11 L-53.2,-10.4 L-53.1,-7.9 L-54.7,-7.9Z"/><g id="ice"><path d="M-36.3,-44.7 L-34.3,-45.7 L-30.3,-45.9 L-25.3,-46.7 L-20.3,-47.2 L-15.3,-48.2 L-13.3,-49.7 L-9.3,-50.5 L-5.3,-51.3 L-1.3,-52.1 L1.1,-52.9 L2.7,-52.1 L3.5,-48.9 L5.1,-45.7 L7.5,-44.1 L9.1,-42.5 L10.7,-38.5 L12.3,-35.3 L13.5,-32.7 L14.7,-27.9 L16.5,-23.7 L17.7,-20.7 L20.7,-17.7 L21.3,-11.7 L22.2,-7.7 L19.5,-1.7 L19.2,4.3 L20.7,7.9 L23.7,9.7 L25.5,11.5 L24.5,14 L20.5,17 L15.5,20.5 L10.5,24.6 L5.5,28.8 L1.3,33 L-2.2,37.2 L-5.5,41.2 L-7.8,42.8 L-10.8,47.6 L-14.5,53.6 L-18.5,57.6 L-23.3,60.5 L-27.5,62.5 L-26,50 L-22,38 L-24,28 L-28,18 L-31,12 L-35,8 L-40,6 L-46,6 L-53,7 L-60,3 L-63,-5 L-60,-12 L-55,-18 L-48,-22 L-42,-24 L-38,-22 L-36.8,-27.7 L-36.3,-35.7 L-35.8,-40.7Z" fill="#464646"/><path d="M-33.5,-44.5 L-30.3,-45 L-25.3,-45.8 L-20.3,-46.3 L-15.3,-47.2 L-13.3,-47.3 L-9.3,-46.5 L-6.1,-45.7 L-5.3,-43.3 L-4,-40 L-1.3,-38.5 L2.7,-41.7 L6.7,-40.1 L7.5,-36.9 L9.9,-33.7 L12.3,-30.5 L13,-27 L14,-23 L15.5,-20.5 L18.5,-17 L19.5,-12 L17,-8 L17.1,-1.7 L17.7,4.3 L18.9,9.1 L21,11 L20,14 L16,17 L12,20.5 L7,25 L2,29 L-1,33 L-4,37 L-7,41.5 L-10,46.5 L-13.8,52.5 L-18,56.8 L-23,59.8 L-27.5,61.8 L-26,50 L-22,38 L-24,28 L-28,18 L-31,12 L-35,8 L-40,6 L-46,6 L-53,7 L-60,3 L-63,-5 L-60,-12 L-55,-18 L-48,-22 L-42,-24 L-36.5,-22 L-35,-28 L-34.3,-35 L-33.6,-40Z" fill="#9f9f9f"/><path d="M-34.3,-27.7 L-30.3,-30.2 L-25.3,-30.7 L-20.3,-30.9 L-15.3,-30.7 L-10.3,-29.7 L-5.3,-29.2 L-2.3,-29.7 L-0.8,-27.7 L-1.8,-24.7 L-0.3,-23.7 L1.2,-26.7 L2.1,-30.5 L5.1,-29.7 L6.9,-26.7 L8.1,-20.7 L9.5,-14.7 L11,-9 L12.3,-7.7 L14.1,-1.7 L14.7,4.3 L16.5,10.3 L15.9,13.3 L14.7,16.3 L12.9,19.3 L11.1,22.3 L8,25 L4,28.5 L0.5,32 L-2.5,36 L-5,40 L-8,44 L-11,48.5 L-15,54 L-19,57.5 L-24,60 L-28,61.5 L-26,50 L-22,38 L-24,28 L-28,18 L-31,12 L-35,8 L-40,6 L-46,6 L-53,7 L-60,3 L-63,-5 L-60,-12 L-55,-18 L-48,-22 L-42,-24 L-36,-22Z" fill="#e7e7e7"/></g><path id="green" d="M-48.9,59.4 L-43.5,60.3 L-36.3,60.7 L-29.1,62.1 L-21.9,63 L-14.7,61.2 L-7.5,57.6 L-3.9,55.3M-14.5,60.5 L-10.5,58.1 L-4.1,53.3 L0.7,46.9 L3.1,42.1 L3.9,35.7 L4.7,32.5 L8.7,37.3 L13.5,40.5 L18.3,39.7 L23.1,37.3 L27.9,34.1 L31.1,30.9 L34.3,27.7 L35.9,24.5M43.1,34.9 L47.1,37.3 L51.9,36.5 L51.1,32.8 L48.7,33.3M-64.2,36 L-61.5,35.1 L-57.9,33.3 L-54.3,32.4 L-50.7,31.5 L-47.1,30.6 L-43.1,29.3M-63.3,37.3 L-58.8,35.5 L-53.4,33.8 L-46.2,31.9M-81.3,30.1 L-78.6,27.9 L-75.9,26.1M-37.2,9.9 L-35.4,11.3 L-32.7,10.8M-20.3,-68.6 L-18.3,-66.6 L-16.3,-64.1 L-15.1,-62.1 L-16.5,-60.8 L-17.4,-59.9M-15.1,-63 L-12.9,-65.7 L-11.5,-68.4 L-9.8,-69.1 L-7.5,-68.4 L-5.7,-66.6M-5.7,-76.1 L-4.4,-75.2 L-3.5,-74.2" fill="none" stroke="#008000" stroke-width="1.7" stroke-linejoin="round" stroke-linecap="round"/><pattern id="hatch0" patternUnits="userSpaceOnUse" width="8.47" height="8.47" patternTransform="translate(7.4,0)"><path d="M-1,9.47 L9.47,-1 M-2,2 L2,-2 M6.470000000000001,10.47 L10.47,6.470000000000001" stroke="#1a1a1a" stroke-width="1.05" stroke-dasharray="5.5 3"/></pattern><pattern id="hatch1" patternUnits="userSpaceOnUse" width="8.47" height="8.47" patternTransform="translate(7.3,0)"><path d="M-1,9.47 L9.47,-1 M-2,2 L2,-2 M6.470000000000001,10.47 L10.47,6.470000000000001" stroke="#1a1a1a" stroke-width="1.05" stroke-dasharray="5.5 3"/></pattern><pattern id="hatch2" patternUnits="userSpaceOnUse" width="8.47" height="8.47" patternTransform="translate(0.9,0)"><path d="M-1,9.47 L9.47,-1 M-2,2 L2,-2 M6.470000000000001,10.47 L10.47,6.470000000000001" stroke="#222" stroke-width="1.05"/></pattern><pattern id="hatch3" patternUnits="userSpaceOnUse" width="8.47" height="8.47" patternTransform="translate(7.2,0)"><path d="M-1,9.47 L9.47,-1 M-2,2 L2,-2 M6.470000000000001,10.47 L10.47,6.470000000000001" stroke="#1a1a1a" stroke-width="1.05" stroke-dasharray="5.5 3"/></pattern></defs>
<g clip-path="url(#clip0)">
<ellipse cx="118.4" cy="111.4" rx="89.1" ry="90.0" fill="#dedbd9"/>
<g transform="translate(118.3,112.7)"><path d="M-25.5,-92.7 L-0.3,-92.7 L-0.3,-72.9 L-14.7,-72.9 L-21.9,-76.5 L-25.5,-85.5Z" fill="#e4d6d0"/><path d="M-36.3,-50.4 L-27.3,-54 L-14.7,-55.8 L-0.3,-58.1 L-0.3,-49.1 L-14.7,-47.3 L-27.3,-45.9 L-36.3,-44.5Z" fill="#f3ab90"/><path d="M-45.3,-44.1 L-36.3,-45.5 L-35.2,-38.7 L-37.7,-29.7 L-41.3,-22.5 L-47.1,-20.3 L-46.2,-33.3Z" fill="#f3ab90"/><path d="M-39.9,-45 L-36.3,-47.7 L-35.4,-38.7 L-39,-35.1 L-41.7,-38.7Z" fill="#e7745b"/><path d="M-18.3,-52.2 L-0.3,-55.8 L-0.3,-48.6 L-14.7,-47.7Z" fill="#e7745b"/><path d="M-18.3,-72.9 L-3.9,-74.7 L-0.3,-71.1 L-0.3,-60.3 L-9.3,-58.5 L-16.5,-62.1Z" fill="#cad8ef"/><path d="M-11.1,-61.2 L-0.3,-63 L-0.3,-55.8 L-11.1,-54.9Z" fill="#f5c1a9"/><path d="M-66.9,-20.7 L-48.9,-22.5 L-47.1,-17.1 L-54.3,-8.1 L-65.1,-7.2Z" fill="#f29274"/><path d="M-0.3,-59.4 L10.5,-59.4 L17.7,-60.3 L20.4,-55.8 L24.9,-50.4 L32.1,-46.8 L38.4,-39.6 L42,-32.4 L42.9,-24.3 L43.8,-17.1 L42.9,-9.9 L40.2,-2.7 L17.7,-2.7 L17.7,-13.5 L10.5,-33.3 L-0.3,-42.3Z" fill="#ec7f65"/><path d="M1.5,-55.8 L10.5,-54.9 L18.6,-49.5 L16.8,-45.5 L8.7,-47.7 L1.5,-49.5Z" fill="#d65244"/><path d="M21.3,-31.5 L30.3,-29.7 L34.8,-20.7 L31.2,-17.1 L23.1,-22.5Z" fill="#d65244"/><path d="M-0.3,-63 L19.5,-63 L20.4,-56.7 L-0.3,-55.8Z" fill="#f5c1a9"/><path d="M33.9,-40.5 L40.2,-38.7 L43.3,-31.5 L42.5,-23.4 L38.4,-25.7 L35.7,-33.3Z" fill="#b5cdfa"/><path d="M32.1,-17.1 L44.7,-17.1 L44.7,-2.7 L30.3,-2.7Z" fill="#f5c1a9"/><path d="M17.7,-2.7 L35.7,-2.7 L42,4.5 L41.1,11.7 L32.1,15.3 L21.3,11.7 L17.7,4.5Z" fill="#ec7f65"/><path d="M14.1,11.7 L35.7,13.5 L42.9,18.9 L43.8,29.7 L26.7,31.5 L14.1,24.3Z" fill="#f1b9a2"/><path d="M23.1,18.9 L32.1,19.8 L33,26.1 L24,26.1Z" fill="#b5cdfa"/><path d="M26.7,31.5 L51.9,33.3 L50.1,47.7 L39.3,51.3 L26.7,49.5Z" fill="#f3c5b0"/><path d="M-0.3,51.3 L17.7,51.3 L23.1,56.7 L14.1,69.3 L6.9,87.3 L-0.3,87.3Z" fill="#efcdbc"/><path d="M-63.3,8.1 L-36.3,6.3 L-34.5,17.1 L-39.9,27.9 L-48.9,35.1 L-61.5,42.3 L-70.5,40.5 L-66.9,24.3Z" fill="#cfd9ec"/><path d="M-75.9,36.9 L-57.9,29.7 L-39.9,27.9 L-36.3,33.3 L-54.3,40.5 L-72.3,45.9Z" fill="#f0c3ae"/><path d="M-90.3,42.3 L-63.3,44.1 L-54.3,56.7 L-63.3,63.9 L-72.3,69.3 L-90.3,65.7Z" fill="#eed0c0"/><path d="M-63.3,62.1 L-27.3,62.1 L-0.3,65.7 L-0.3,87.3 L-63.3,87.3Z" fill="#eccfc1"/><path d="M-90.3,-2.7 L-72.3,-2.7 L-70.5,18.9 L-90.3,20.7Z" fill="#e3d3cf"/></g>
<path d="M118,55.1 L136,54.2 L143.2,63.2 L154,68.6 L160.3,79.4 L162.1,95.6 L160.3,104.6 L150.4,104.6 L139.6,92 L128.8,74 L118,66.8Z" fill="url(#hatch0)"/><path d="M136,110 L159.4,110 L160.3,124.4 L150.4,128 L137.8,122.6Z" fill="url(#hatch0)"/><path d="M145,144.2 L170.2,146 L168.4,160.4 L157.6,164 L145,162.2Z" fill="url(#hatch0)"/><path d="M118,164 L136,162.2 L141.4,169.4 L132.4,185.6 L123.4,200 L118,200Z" fill="url(#hatch0)"/><path d="M96.4,178.4 L118,169.4 L118,200 L96.4,200Z" fill="url(#hatch0)"/><path d="M46,146 L64,142.4 L65.8,146 L47.8,151.4Z" fill="url(#hatch0)"/>
<use href="#ice" transform="translate(118.3,112.7)"/>
<use href="#land" transform="translate(118.3,112.7)" fill="#fff" stroke="#a6a6a6" stroke-width="1.6" stroke-linejoin="round"/>
<g transform="translate(118.3,112.7)" fill="#dfd8d5" stroke="#a6a6a6" stroke-width="1.6" stroke-linejoin="round"><path d="M27.6,67.3 L30.3,67.7 L30.7,72.7 L29.9,78.1 L31.4,81.7 L31.7,87.1 L27.6,87.1 L26.7,78.1 L27.1,72.7Z"/><path d="M21.9,-81 L24.1,-82.8 L26.8,-84.2 L30.4,-85.1 L35.8,-84.6 L37.6,-82.8 L35.8,-81 L31.3,-80.1 L26.8,-80.6 L24.1,-80.1Z"/><path d="M-0.7,-74.3 L0.9,-80.3 L4.9,-83.9 L11.3,-85.9 L18.3,-88.7 L22.1,-91.1 L11.7,-94.1 L-0.7,-94.1Z"/></g>
<use href="#green" transform="translate(118.3,112.7)"/>
</g>
<g clip-path="url(#clip1)">
<ellipse cx="384.3" cy="111.4" rx="89.1" ry="90.0" fill="#d8d9df"/>
<g transform="translate(384.2,112.7)"><path d="M-25.4,-92.7 L-0.2,-92.7 L-0.2,-72.9 L-14.6,-72.9 L-21.8,-76.5 L-25.4,-85.5Z" fill="#a9c4f8"/><path d="M-18.2,-89.1 L-9.2,-89.1 L-9.2,-81.9 L-18.2,-81.9Z" fill="#e6d1c8"/><path d="M-18.2,-72.9 L-0.2,-74.7 L-0.2,-58.5 L-12.8,-57.6 L-17.3,-63.9Z" fill="#8fb0fb"/><path d="M-12.8,-59.4 L-0.2,-61.2 L-0.2,-52.2 L-12.8,-52.2Z" fill="#f4a98c"/><path d="M-36.2,-50.4 L-27.2,-54 L-14.6,-55.8 L-0.2,-58.1 L-0.2,-49.1 L-14.6,-47.3 L-27.2,-45.9 L-36.2,-44.5Z" fill="#f29274"/><path d="M-45.2,-44.1 L-36.2,-45.5 L-35.1,-38.7 L-37.6,-29.7 L-41.2,-22.5 L-47,-20.3 L-46.1,-33.3Z" fill="#d65244"/><path d="M-66.8,-20.7 L-48.8,-22.5 L-47,-17.1 L-54.2,-8.1 L-65,-7.2Z" fill="#f29274"/><path d="M-38,-46.3 L-27.2,-48.6 L-18.2,-51.3 L-9.2,-51.7 L-0.2,-53.5 L-0.2,-50.2 L-9.2,-48.4 L-18.2,-47.3 L-27.2,-45.5 L-37.1,-43.7Z" fill="#c0282f"/><path d="M-0.2,-59.4 L10.6,-59.4 L17.8,-60.3 L20.5,-55.8 L25,-50.4 L32.2,-46.8 L38.5,-39.6 L42.1,-32.4 L43,-24.3 L43.9,-17.1 L43,-9.9 L40.3,-2.7 L17.8,-2.7 L17.8,-13.5 L10.6,-33.3 L-0.2,-42.3Z" fill="#e7745b"/><path d="M-0.2,-56.7 L10.6,-54.5 L20,-48.1 L17.8,-44.5 L8.8,-47.3 L-0.2,-49.9Z" fill="#c0282f"/><path d="M1.8,-54.7 L11.9,-52.7 L19.8,-46.6 L25.7,-40.7 L31.8,-35.6 L35.8,-33.3 L41.2,-27.9 L38.5,-24.3 L29.9,-28.6 L23.7,-31.7 L17.8,-37.6 L10.8,-44.6 L1.8,-48.8Z" fill="#c22c33"/><path d="M23.2,-24.3 L41.2,-24.3 L43.9,-6.3 L26.8,-6.3Z" fill="#f5c1a9"/><path d="M-0.2,-63 L19.6,-63 L20.5,-56.7 L-0.2,-55.8Z" fill="#d8d4dc"/><path d="M36.7,-23.4 L42.1,-23.4 L42.1,-18 L36.7,-18Z" fill="#6f92f3"/><path d="M-90.2,-2.7 L-72.2,-2.7 L-70.4,18.9 L-90.2,20.7Z" fill="#9ebeff"/><path d="M-63.2,8.1 L-36.2,6.3 L-34.4,17.1 L-39.8,27.9 L-48.8,35.1 L-61.4,42.3 L-70.4,40.5 L-66.8,24.3Z" fill="#9ebeff"/><path d="M-54.2,15.3 L-43.4,8.1 L-36.2,8.1 L-38,18.9 L-45.2,27.9 L-52.4,31.5 L-55.1,26.1Z" fill="#5977e3"/><path d="M-79.4,33.3 L-59.6,33.3 L-43.4,29.7 L-39.8,36.9 L-57.8,44.1 L-75.8,51.3 L-83,44.1Z" fill="#b5cdfa"/><path d="M-90.2,47.7 L-63.2,47.7 L-57.8,58.5 L-63.2,72.9 L-79.4,72.9 L-90.2,69.3Z" fill="#d4d9e6"/><path d="M-27.2,58.5 L-14.6,56.7 L-0.2,44.1 L-0.2,56.7 L-11,65.7 L-25.4,66.6Z" fill="#86a9fc"/><path d="M-63.2,67.5 L-0.2,65.7 L-0.2,87.3 L-63.2,87.3Z" fill="#d6d9e3"/><path d="M17.8,-2.7 L43,-2.7 L46.6,8.1 L50.2,17.1 L35.8,17.1 L23.2,13.5 L17.8,4.5Z" fill="#f29c80"/><path d="M43,8.1 L48.4,8.1 L48.4,13.5 L43.9,13.5Z" fill="#c0282f"/><path d="M32.2,15.3 L52,17.1 L53.8,27.9 L44.8,33.3 L34,26.1Z" fill="#9ebeff"/><path d="M-0.2,31.5 L17.8,24.3 L35.8,18.9 L41.2,22.5 L35.8,33.3 L21.4,40.5 L7,47.7 L-0.2,49.5Z" fill="#86a9fc"/><path d="M3.4,49.5 L21.4,42.3 L39.4,35.1 L46.6,38.7 L35.8,49.5 L17.8,53.1 L3.4,56.7Z" fill="#f5c1a9"/><path d="M26.8,67.5 L32.2,67.5 L32.2,81.9 L26.8,81.9Z" fill="#b5cdfa"/></g>
<path d="M329.1,120.8 L348,119.9 L348,131.6 L339,142.4 L330,146 L328.2,137Z" fill="url(#hatch1)"/><path d="M294,110 L312,110 L312,131.6 L294,133.4Z" fill="url(#hatch1)"/><path d="M357,169.4 L384,155 L384,171.2 L373.2,180.2 L358.8,180.2Z" fill="url(#hatch1)"/><path d="M384,144.2 L402,137 L420,131.6 L425.4,135.2 L420,146 L405.6,153.2 L391.2,160.4 L384,162.2Z" fill="url(#hatch1)"/><path d="M405.6,110 L427.2,110 L430.8,120.8 L429,128 L411,126.2Z" fill="url(#hatch1)"/><path d="M387.6,59.6 L402,63.2 L412.8,79.4 L416.4,95.6 L407.4,95.6 L398.4,79.4 L387.6,66.8Z" fill="url(#hatch1)"/>
<use href="#ice" transform="translate(384.2,112.7)"/>
<use href="#land" transform="translate(384.2,112.7)" fill="#fff" stroke="#a6a6a6" stroke-width="1.6" stroke-linejoin="round"/>
<g transform="translate(384.2,112.7)" fill="#afc8f8" stroke="#a6a6a6" stroke-width="1.6" stroke-linejoin="round"><path d="M27.6,67.3 L30.3,67.7 L30.7,72.7 L29.9,78.1 L31.4,81.7 L31.7,87.1 L27.6,87.1 L26.7,78.1 L27.1,72.7Z"/><path d="M21.9,-81 L24.1,-82.8 L26.8,-84.2 L30.4,-85.1 L35.8,-84.6 L37.6,-82.8 L35.8,-81 L31.3,-80.1 L26.8,-80.6 L24.1,-80.1Z"/><path d="M-0.7,-74.3 L0.9,-80.3 L4.9,-83.9 L11.3,-85.9 L18.3,-88.7 L22.1,-91.1 L11.7,-94.1 L-0.7,-94.1Z"/></g>
<use href="#green" transform="translate(384.2,112.7)"/>
</g>
<g clip-path="url(#clip2)">
<ellipse cx="118.4" cy="382.6" rx="89.1" ry="90.0" fill="#ffffff"/>
<g transform="translate(118.3,383.9)"><path d="M-0.3,-63.2 L17.7,-62.3 L20.4,-57.8 L24.9,-51.5 L35.7,-42.5 L42,-33.5 L42.9,-24.5 L43.8,-17.3 L42.9,-10.1 L41.1,-2.9 L-0.3,-2.9Z" fill="#d9dce3"/><path d="M-0.3,-2.9 L43.8,-2.9 L46.5,6.1 L50.1,15.1 L51.9,24.1 L50.1,31.3 L39.3,28.6 L34.8,20.5 L32.1,24.1 L21.3,33.1 L10.5,38.5 L-0.3,43.9Z" fill="#d9dce3"/><path d="M-0.3,-2.9 L-0.3,40.3 L-5.7,44.3 L-14.7,51.5 L-27.3,58.7 L-39.9,59.7 L-47.1,57.9 L-39.9,43.9 L-36.3,34.9 L-45.3,34 L-56.1,35.3 L-61.5,29.5 L-63.3,24.1 L-68.7,27.7 L-70.5,25.9 L-90.3,25.9 L-90.3,-2.9Z" fill="#d9dce3"/><path d="M-90.3,-2.9 L-63.3,-2.9 L-66.9,-11.9 L-63.3,-20.9 L-57.9,-28.1 L-50.7,-30.8 L-47.1,-33.5 L-46.2,-38.9 L-43.5,-46.1 L-36.3,-50.6 L-27.3,-53.3 L-18.3,-58.7 L-14.7,-63.2 L-9.3,-65.9 L-0.3,-67.7 L-0.3,-2.9Z" fill="#d9dce3"/><path d="M-0.3,-67.7 L-9.3,-65.9 L-14.7,-63.2 L-18.3,-58.7 L-27.3,-53.3 L-36.3,-50.6 L-43.5,-46.1 L-46.2,-38.9 L-47.1,-33.5 L-38.1,-31.7 L-25.5,-42.5 L-12.9,-49.7 L-0.3,-56.9Z" fill="#a9c4f8"/><path d="M-45.3,-42.5 L-36.3,-46.1 L-32.7,-38.9 L-39.9,-33.5 L-45.3,-33.5Z" fill="#86a9fc"/><path d="M-38.1,-31.7 L-25.5,-42.5 L-12.9,-49.7 L-0.3,-56.9 L-0.3,-38.9 L-18.3,-28.1 L-32.7,-20.9Z" fill="#c2d4f3"/><path d="M-0.3,-62.3 L17.7,-61.9 L23.1,-53.3 L35.7,-42.5 L42.9,-31.7 L43.8,-17.3 L41.1,-6.5 L26.7,-6.5 L17.7,-20.9 L6.9,-38.9 L-0.3,-42.5Z" fill="#adc6f7"/><path d="M17.7,-37.1 L30.3,-33.5 L35.7,-22.7 L28.5,-19.1 L19.5,-28.1Z" fill="#86a9fc"/><path d="M17.7,-2.9 L44.7,-2.9 L50.1,15.1 L51,27.7 L39.3,27.7 L33.9,20.5 L17.7,15.1Z" fill="#9ebeff"/><path d="M16.8,35.8 L24.9,27.7 L33,22.3 L35.7,24.1 L26.7,33.1 L19.5,38.5Z" fill="#a9c2f3"/><path d="M31.2,23.2 L34.8,21.4 L35.7,23.2 L32.1,25Z" fill="#e88a70"/><path d="M-57.9,11.5 L-36.3,9.7 L-36.3,18.7 L-45.3,31.3 L-56.1,33.1 L-59.7,24.1Z" fill="#b5cdfa"/><path d="M-45.3,56.5 L-36.3,56.5 L-18.3,51.1 L-5.7,42.1 L-0.3,40.3 L-0.3,54.7 L-14.7,61.9 L-36.3,61.9Z" fill="#c7d3ee"/><path d="M-90.3,-2.9 L-70.5,-2.9 L-69.6,24.1 L-90.3,25.9Z" fill="#cfd7e8"/><path d="M-86.7,7.9 L-79.5,7.9 L-79.5,13.3 L-86.7,13.3Z" fill="#e8d3c8"/></g>
<path d="M73,343.2 L91,330.6 L118,318 L118,381 L82,381 L74.8,368.4Z" fill="url(#hatch2)"/><path d="M118,322.5 L136,323.4 L154,343.2 L155.8,366.6 L145,372 L128.8,354 L118,350.4Z" fill="url(#hatch2)"/><path d="M132.4,381 L163,381 L164.8,399 L154,408 L134.2,408Z" fill="url(#hatch2)"/>
<use href="#land" transform="translate(118.3,383.9)" fill="#fff" stroke="#a6a6a6" stroke-width="1.6" stroke-linejoin="round"/>
<g transform="translate(118.3,383.9)" fill="#ffffff" stroke="#a6a6a6" stroke-width="1.6" stroke-linejoin="round"><path d="M27.6,67.3 L30.3,67.7 L30.7,72.7 L29.9,78.1 L31.4,81.7 L31.7,87.1 L27.6,87.1 L26.7,78.1 L27.1,72.7Z"/><path d="M21.9,-81 L24.1,-82.8 L26.8,-84.2 L30.4,-85.1 L35.8,-84.6 L37.6,-82.8 L35.8,-81 L31.3,-80.1 L26.8,-80.6 L24.1,-80.1Z"/><path d="M-0.7,-74.3 L0.9,-80.3 L4.9,-83.9 L11.3,-85.9 L18.3,-88.7 L22.1,-91.1 L11.7,-94.1 L-0.7,-94.1Z"/></g>
</g>
<g clip-path="url(#clip3)">
<ellipse cx="384.3" cy="382.6" rx="89.1" ry="90.0" fill="#d9dae0"/>
<g transform="translate(384.2,383.9)"><path d="M-25.4,-92.9 L-0.2,-92.9 L-0.2,-73.1 L-14.6,-73.1 L-21.8,-76.7 L-25.4,-85.7Z" fill="#dfd7d6"/><path d="M-11,-85.7 L-5.6,-85.7 L-5.6,-80.3 L-11,-80.3Z" fill="#b5cdfa"/><path d="M-18.2,-73.1 L-0.2,-74.9 L-0.2,-52.4 L-12.8,-52.4 L-17.3,-64.1Z" fill="#f3b59c"/><path d="M-36.2,-50.6 L-27.2,-54.2 L-14.6,-56 L-0.2,-58.3 L-0.2,-49.3 L-14.6,-47.5 L-27.2,-46.1 L-36.2,-44.7Z" fill="#ea7a60"/><path d="M-45.2,-44.3 L-36.2,-45.7 L-35.1,-38.9 L-37.6,-29.9 L-41.2,-22.7 L-47,-20.5 L-46.1,-33.5Z" fill="#d65244"/><path d="M-66.8,-20.9 L-48.8,-22.7 L-47,-17.3 L-54.2,-8.3 L-65,-7.4Z" fill="#f29274"/><path d="M-38,-46.5 L-27.2,-48.8 L-18.2,-51.5 L-9.2,-51.9 L-0.2,-53.7 L-0.2,-50.4 L-9.2,-48.6 L-18.2,-47.5 L-27.2,-45.7 L-37.1,-43.9Z" fill="#c0282f"/><path d="M-0.2,-59.6 L10.6,-59.6 L17.8,-60.5 L20.5,-56 L25,-50.6 L32.2,-47 L38.5,-39.8 L42.1,-32.6 L43,-24.5 L43.9,-17.3 L43,-10.1 L40.3,-2.9 L17.8,-2.9 L17.8,-13.7 L10.6,-33.5 L-0.2,-42.5Z" fill="#e7745b"/><path d="M-0.2,-56.9 L10.6,-54.7 L20,-48.3 L17.8,-44.7 L8.8,-47.5 L-0.2,-50.1Z" fill="#c0282f"/><path d="M1.8,-54.9 L11.9,-52.9 L19.8,-46.8 L25.7,-40.9 L31.8,-35.8 L34.7,-31 L29.9,-28.8 L23.7,-31.9 L17.8,-37.8 L10.8,-44.8 L1.8,-49Z" fill="#c9353a"/><path d="M23.2,-28.1 L41.2,-28.1 L43.9,-6.5 L26.8,-6.5Z" fill="#f5c1a9"/><path d="M-90.2,-2.9 L-72.2,-2.9 L-70.4,18.7 L-90.2,20.5Z" fill="#b3cbf6"/><path d="M-63.2,7.9 L-36.2,6.1 L-34.4,16.9 L-39.8,27.7 L-48.8,34.9 L-61.4,42.1 L-70.4,40.3 L-66.8,24.1Z" fill="#aec6f7"/><path d="M-83,29.5 L-45.2,29.5 L-39.8,38.5 L-57.8,51.1 L-79.4,56.5 L-90.2,51.1 L-90.2,33.1Z" fill="#b3cbf6"/><path d="M-90.2,51.1 L-63.2,51.1 L-54.2,65.5 L-45.2,72.7 L-54.2,87.1 L-90.2,87.1Z" fill="#c4d5f1"/><path d="M-45.2,58.3 L-0.2,47.5 L-0.2,87.1 L-54.2,87.1Z" fill="#c4d5f1"/><path d="M17.8,-2.9 L43,-2.9 L48.4,7.9 L50.2,20.5 L39.4,24.1 L23.2,16.9 L17.8,4.3Z" fill="#f5c1a9"/><path d="M39.4,6.1 L48.4,7.9 L48.4,16.9 L41.2,16.9Z" fill="#e7745b"/><path d="M-0.2,18.7 L35.8,15.1 L52,29.5 L52,51.1 L35.8,60.1 L17.8,69.1 L-0.2,78.1Z" fill="#c9d6ee"/><path d="M-0.2,31.3 L17.8,24.1 L35.8,20.5 L39.4,29.5 L21.4,42.1 L-0.2,51.1Z" fill="#b3cbf6"/></g>
<path d="M384,326.1 L402,325.2 L409.2,334.2 L420,339.6 L426.3,350.4 L428.1,366.6 L426.3,375.6 L416.4,375.6 L405.6,363 L394.8,345 L384,337.8Z" fill="url(#hatch3)"/><path d="M294,381 L351.6,381 L351.6,408 L339,426 L384,435 L384,471 L294,471Z" fill="url(#hatch3)"/><path d="M384,404.4 L420,400.8 L434.4,417 L432.6,435 L411,442.2 L384,453Z" fill="url(#hatch3)"/><path d="M407.4,381 L427.2,381 L429,397.2 L411,397.2Z" fill="url(#hatch3)"/>
<use href="#ice" transform="translate(384.2,383.9)"/>
<use href="#land" transform="translate(384.2,383.9)" fill="#fff" stroke="#a6a6a6" stroke-width="1.6" stroke-linejoin="round"/>
<g transform="translate(384.2,383.9)" fill="#dcd6d8" stroke="#a6a6a6" stroke-width="1.6" stroke-linejoin="round"><path d="M27.6,67.3 L30.3,67.7 L30.7,72.7 L29.9,78.1 L31.4,81.7 L31.7,87.1 L27.6,87.1 L26.7,78.1 L27.1,72.7Z"/><path d="M21.9,-81 L24.1,-82.8 L26.8,-84.2 L30.4,-85.1 L35.8,-84.6 L37.6,-82.8 L35.8,-81 L31.3,-80.1 L26.8,-80.6 L24.1,-80.1Z"/><path d="M-0.7,-74.3 L0.9,-80.3 L4.9,-83.9 L11.3,-85.9 L18.3,-88.7 L22.1,-91.1 L11.7,-94.1 L-0.7,-94.1Z"/></g>
<use href="#green" transform="translate(384.2,383.9)"/>
</g>
<g clip-path="url(#clip0)" fill="none" stroke="#a8a8a8" stroke-width="0.8"><circle cx="118.3" cy="112.7" r="74.6"/><circle cx="118.3" cy="112.7" r="44.3"/><circle cx="118.3" cy="112.7" r="14.7"/><line x1="118.3" y1="112.7" x2="118.3" y2="218.9"/><line x1="118.3" y1="112.7" x2="210.2" y2="165.8"/><line x1="118.3" y1="112.7" x2="210.2" y2="59.6"/><line x1="118.3" y1="112.7" x2="118.3" y2="6.5"/><line x1="118.3" y1="112.7" x2="26.4" y2="59.6"/><line x1="118.3" y1="112.7" x2="26.4" y2="165.8"/></g>
<ellipse cx="118.4" cy="111.4" rx="89.1" ry="90.0" fill="none" stroke="#000" stroke-width="1.1"/>
<text transform="translate(142.68,49.7) scale(1.06,1)" font-size="11.02">65°N</text>
<text transform="translate(127.44,76.9) scale(1.05,1)" font-size="11.02">75°N</text>
<text transform="translate(113.35,102.6) scale(1.05,1)" font-size="11.02">85°N</text>
<text transform="translate(21.8,53.6) rotate(30) translate(-17.8,3.79) scale(1.05,1)" font-size="11.02">120°W</text>
<text transform="translate(214,56) rotate(-30) translate(-15.77,3.79) scale(1.03,1)" font-size="11.02">120°E</text>
<text transform="translate(24.1,167.4) rotate(-30) translate(-14.41,3.79) scale(1.04,1)" font-size="11.02">60°W</text>
<text transform="translate(211.3,166.5) rotate(30) translate(-12.38,3.79) scale(1.03,1)" font-size="11.02">60°E</text>
<text transform="translate(29.71,14.7) scale(1.19,1)" font-size="13.25" font-weight="bold">(a)</text>
<g clip-path="url(#clip1)" fill="none" stroke="#a8a8a8" stroke-width="0.8"><circle cx="384.2" cy="112.7" r="74.6"/><circle cx="384.2" cy="112.7" r="44.3"/><circle cx="384.2" cy="112.7" r="14.7"/><line x1="384.2" y1="112.7" x2="384.2" y2="218.9"/><line x1="384.2" y1="112.7" x2="476.1" y2="165.8"/><line x1="384.2" y1="112.7" x2="476.1" y2="59.6"/><line x1="384.2" y1="112.7" x2="384.2" y2="6.5"/><line x1="384.2" y1="112.7" x2="292.3" y2="59.6"/><line x1="384.2" y1="112.7" x2="292.3" y2="165.8"/></g>
<ellipse cx="384.3" cy="111.4" rx="89.1" ry="90.0" fill="none" stroke="#000" stroke-width="1.1"/>
<text transform="translate(408.58,49.7) scale(1.06,1)" font-size="11.02">65°N</text>
<text transform="translate(393.34,76.9) scale(1.05,1)" font-size="11.02">75°N</text>
<text transform="translate(379.25,102.6) scale(1.05,1)" font-size="11.02">85°N</text>
<text transform="translate(287.7,53.6) rotate(30) translate(-17.8,3.79) scale(1.05,1)" font-size="11.02">120°W</text>
<text transform="translate(479.9,56) rotate(-30) translate(-15.77,3.79) scale(1.03,1)" font-size="11.02">120°E</text>
<text transform="translate(290,167.4) rotate(-30) translate(-14.41,3.79) scale(1.04,1)" font-size="11.02">60°W</text>
<text transform="translate(477.2,166.5) rotate(30) translate(-12.38,3.79) scale(1.03,1)" font-size="11.02">60°E</text>
<text transform="translate(295.63,14.7) scale(1.17,1)" font-size="13.25" font-weight="bold">(b)</text>
<g clip-path="url(#clip2)" fill="none" stroke="#a8a8a8" stroke-width="0.8"><circle cx="118.3" cy="383.9" r="74.6"/><circle cx="118.3" cy="383.9" r="44.3"/><circle cx="118.3" cy="383.9" r="14.7"/><line x1="118.3" y1="383.9" x2="118.3" y2="490.1"/><line x1="118.3" y1="383.9" x2="210.2" y2="437"/><line x1="118.3" y1="383.9" x2="210.2" y2="330.8"/><line x1="118.3" y1="383.9" x2="118.3" y2="277.7"/><line x1="118.3" y1="383.9" x2="26.4" y2="330.8"/><line x1="118.3" y1="383.9" x2="26.4" y2="437"/></g>
<ellipse cx="118.4" cy="382.6" rx="89.1" ry="90.0" fill="none" stroke="#000" stroke-width="1.1"/>
<text transform="translate(142.68,320.9) scale(1.06,1)" font-size="11.02">65°N</text>
<text transform="translate(127.44,348.1) scale(1.05,1)" font-size="11.02">75°N</text>
<text transform="translate(113.35,373.8) scale(1.05,1)" font-size="11.02">85°N</text>
<text transform="translate(21.8,324.8) rotate(30) translate(-17.8,3.79) scale(1.05,1)" font-size="11.02">120°W</text>
<text transform="translate(214,327.2) rotate(-30) translate(-15.77,3.79) scale(1.03,1)" font-size="11.02">120°E</text>
<text transform="translate(24.1,438.6) rotate(-30) translate(-14.41,3.79) scale(1.04,1)" font-size="11.02">60°W</text>
<text transform="translate(211.3,437.7) rotate(30) translate(-12.38,3.79) scale(1.03,1)" font-size="11.02">60°E</text>
<text transform="translate(29.76,285.9) scale(1.12,1)" font-size="13.25" font-weight="bold">(c)</text>
<g clip-path="url(#clip3)" fill="none" stroke="#a8a8a8" stroke-width="0.8"><circle cx="384.2" cy="383.9" r="74.6"/><circle cx="384.2" cy="383.9" r="44.3"/><circle cx="384.2" cy="383.9" r="14.7"/><line x1="384.2" y1="383.9" x2="384.2" y2="490.1"/><line x1="384.2" y1="383.9" x2="476.1" y2="437"/><line x1="384.2" y1="383.9" x2="476.1" y2="330.8"/><line x1="384.2" y1="383.9" x2="384.2" y2="277.7"/><line x1="384.2" y1="383.9" x2="292.3" y2="330.8"/><line x1="384.2" y1="383.9" x2="292.3" y2="437"/></g>
<ellipse cx="384.3" cy="382.6" rx="89.1" ry="90.0" fill="none" stroke="#000" stroke-width="1.1"/>
<text transform="translate(408.58,320.9) scale(1.06,1)" font-size="11.02">65°N</text>
<text transform="translate(393.34,348.1) scale(1.05,1)" font-size="11.02">75°N</text>
<text transform="translate(379.25,373.8) scale(1.05,1)" font-size="11.02">85°N</text>
<text transform="translate(287.7,324.8) rotate(30) translate(-17.8,3.79) scale(1.05,1)" font-size="11.02">120°W</text>
<text transform="translate(479.9,327.2) rotate(-30) translate(-15.77,3.79) scale(1.03,1)" font-size="11.02">120°E</text>
<text transform="translate(290,438.6) rotate(-30) translate(-14.41,3.79) scale(1.04,1)" font-size="11.02">60°W</text>
<text transform="translate(477.2,437.7) rotate(30) translate(-12.38,3.79) scale(1.03,1)" font-size="11.02">60°E</text>
<text transform="translate(295.63,285.9) scale(1.17,1)" font-size="13.25" font-weight="bold">(d)</text>
<text transform="translate(159.6,14.6) scale(0.92,1)" font-size="13.25">PCHO</text>
<text transform="translate(195.48,16.5) scale(0.98,1)" font-size="9.28" font-style="italic">sw</text>
<text transform="translate(446.62,14.6) scale(0.9,1)" font-size="13.25">PL</text>
<text transform="translate(461.58,16.5) scale(0.98,1)" font-size="9.28" font-style="italic">sw</text>
<text transform="translate(187.51,285.8) scale(0.9,1)" font-size="13.25">SIC</text>
<text transform="translate(449.06,285.8) scale(0.89,1)" font-size="13.25">NPP</text>
<polygon points="29.6,219.8 37.7,215.4 37.7,224.2" fill="#3b4cc0"/>
<rect x="37.4" y="215.4" width="11.2" height="8.8" fill="#445acc"/>
<rect x="48.2" y="215.4" width="11.2" height="8.8" fill="#5977e3"/>
<rect x="59.1" y="215.4" width="11.2" height="8.8" fill="#6f92f3"/>
<rect x="69.9" y="215.4" width="11.2" height="8.8" fill="#86a9fc"/>
<rect x="80.7" y="215.4" width="11.2" height="8.8" fill="#9ebeff"/>
<rect x="91.5" y="215.4" width="11.2" height="8.8" fill="#b5cdfa"/>
<rect x="102.4" y="215.4" width="11.2" height="8.8" fill="#cad8ef"/>
<rect x="113.2" y="215.4" width="11.2" height="8.8" fill="#dcdddd"/>
<rect x="124" y="215.4" width="11.2" height="8.8" fill="#edd2c3"/>
<rect x="134.8" y="215.4" width="11.2" height="8.8" fill="#f5c1a9"/>
<rect x="145.7" y="215.4" width="11.2" height="8.8" fill="#f7ac8e"/>
<rect x="156.5" y="215.4" width="11.2" height="8.8" fill="#f29274"/>
<rect x="167.3" y="215.4" width="11.2" height="8.8" fill="#e7745b"/>
<rect x="178.1" y="215.4" width="11.2" height="8.8" fill="#d65244"/>
<rect x="189" y="215.4" width="11.2" height="8.8" fill="#c0282f"/>
<polygon points="207.6,219.8 199.5,215.4 199.5,224.2" fill="#b40426"/>
<polygon points="29.6,219.8 37.4,215.4 199.8,215.4 207.6,219.8 199.8,224.2 37.4,224.2" fill="none" stroke="#000" stroke-width="0.8"/>
<line x1="37.4" y1="224.2" x2="37.4" y2="227.7" stroke="#000" stroke-width="0.8"/>
<text transform="translate(23.77,240.6) scale(1.06,1)" font-size="11.02">-0.04</text>
<line x1="78" y1="224.2" x2="78" y2="227.7" stroke="#000" stroke-width="0.8"/>
<text transform="translate(64.6,240.6) scale(1.05,1)" font-size="11.02">-0.02</text>
<line x1="118.6" y1="224.2" x2="118.6" y2="227.7" stroke="#000" stroke-width="0.8"/>
<text transform="translate(115.35,240.6) scale(0.99,1)" font-size="11.02">0</text>
<line x1="159.2" y1="224.2" x2="159.2" y2="227.7" stroke="#000" stroke-width="0.8"/>
<text transform="translate(147.83,240.6) scale(1.05,1)" font-size="11.02">0.02</text>
<line x1="199.8" y1="224.2" x2="199.8" y2="227.7" stroke="#000" stroke-width="0.8"/>
<text transform="translate(188.2,240.6) scale(1.06,1)" font-size="11.02">0.04</text>
<polygon points="295.5,219.8 303.6,215.4 303.6,224.2" fill="#3b4cc0"/>
<rect x="303.3" y="215.4" width="11.2" height="8.8" fill="#445acc"/>
<rect x="314.1" y="215.4" width="11.2" height="8.8" fill="#5977e3"/>
<rect x="325" y="215.4" width="11.2" height="8.8" fill="#6f92f3"/>
<rect x="335.8" y="215.4" width="11.2" height="8.8" fill="#86a9fc"/>
<rect x="346.6" y="215.4" width="11.2" height="8.8" fill="#9ebeff"/>
<rect x="357.4" y="215.4" width="11.2" height="8.8" fill="#b5cdfa"/>
<rect x="368.3" y="215.4" width="11.2" height="8.8" fill="#cad8ef"/>
<rect x="379.1" y="215.4" width="11.2" height="8.8" fill="#dcdddd"/>
<rect x="389.9" y="215.4" width="11.2" height="8.8" fill="#edd2c3"/>
<rect x="400.7" y="215.4" width="11.2" height="8.8" fill="#f5c1a9"/>
<rect x="411.6" y="215.4" width="11.2" height="8.8" fill="#f7ac8e"/>
<rect x="422.4" y="215.4" width="11.2" height="8.8" fill="#f29274"/>
<rect x="433.2" y="215.4" width="11.2" height="8.8" fill="#e7745b"/>
<rect x="444" y="215.4" width="11.2" height="8.8" fill="#d65244"/>
<rect x="454.9" y="215.4" width="11.2" height="8.8" fill="#c0282f"/>
<polygon points="473.5,219.8 465.4,215.4 465.4,224.2" fill="#b40426"/>
<polygon points="295.5,219.8 303.3,215.4 465.7,215.4 473.5,219.8 465.7,224.2 303.3,224.2" fill="none" stroke="#000" stroke-width="0.8"/>
<line x1="333.7" y1="224.2" x2="333.7" y2="227.7" stroke="#000" stroke-width="0.8"/>
<text transform="translate(316.98,240.6) scale(1.06,1)" font-size="11.02">-0.005</text>
<line x1="384.5" y1="224.2" x2="384.5" y2="227.7" stroke="#000" stroke-width="0.8"/>
<text transform="translate(381.25,240.6) scale(0.99,1)" font-size="11.02">0</text>
<line x1="435.2" y1="224.2" x2="435.2" y2="227.7" stroke="#000" stroke-width="0.8"/>
<text transform="translate(420.51,240.6) scale(1.06,1)" font-size="11.02">0.005</text>
<polygon points="29.6,491 37.7,486.6 37.7,495.4" fill="#3b4cc0"/>
<rect x="37.4" y="486.6" width="11.2" height="8.8" fill="#445acc"/>
<rect x="48.2" y="486.6" width="11.2" height="8.8" fill="#5977e3"/>
<rect x="59.1" y="486.6" width="11.2" height="8.8" fill="#6f92f3"/>
<rect x="69.9" y="486.6" width="11.2" height="8.8" fill="#86a9fc"/>
<rect x="80.7" y="486.6" width="11.2" height="8.8" fill="#9ebeff"/>
<rect x="91.5" y="486.6" width="11.2" height="8.8" fill="#b5cdfa"/>
<rect x="102.4" y="486.6" width="11.2" height="8.8" fill="#cad8ef"/>
<rect x="113.2" y="486.6" width="11.2" height="8.8" fill="#dcdddd"/>
<rect x="124" y="486.6" width="11.2" height="8.8" fill="#edd2c3"/>
<rect x="134.8" y="486.6" width="11.2" height="8.8" fill="#f5c1a9"/>
<rect x="145.7" y="486.6" width="11.2" height="8.8" fill="#f7ac8e"/>
<rect x="156.5" y="486.6" width="11.2" height="8.8" fill="#f29274"/>
<rect x="167.3" y="486.6" width="11.2" height="8.8" fill="#e7745b"/>
<rect x="178.1" y="486.6" width="11.2" height="8.8" fill="#d65244"/>
<rect x="189" y="486.6" width="11.2" height="8.8" fill="#c0282f"/>
<polygon points="207.6,491 199.5,486.6 199.5,495.4" fill="#b40426"/>
<polygon points="29.6,491 37.4,486.6 199.8,486.6 207.6,491 199.8,495.4 37.4,495.4" fill="none" stroke="#000" stroke-width="0.8"/>
<line x1="64.5" y1="495.4" x2="64.5" y2="498.9" stroke="#000" stroke-width="0.8"/>
<text transform="translate(59.36,511.8) scale(1.01,1)" font-size="11.02">-2</text>
<line x1="118.6" y1="495.4" x2="118.6" y2="498.9" stroke="#000" stroke-width="0.8"/>
<text transform="translate(115.35,511.8) scale(0.99,1)" font-size="11.02">0</text>
<line x1="172.7" y1="495.4" x2="172.7" y2="498.9" stroke="#000" stroke-width="0.8"/>
<text transform="translate(169.59,511.8) scale(0.96,1)" font-size="11.02">2</text>
<polygon points="295.5,491 303.6,486.6 303.6,495.4" fill="#3b4cc0"/>
<rect x="303.3" y="486.6" width="11.2" height="8.8" fill="#445acc"/>
<rect x="314.1" y="486.6" width="11.2" height="8.8" fill="#5977e3"/>
<rect x="325" y="486.6" width="11.2" height="8.8" fill="#6f92f3"/>
<rect x="335.8" y="486.6" width="11.2" height="8.8" fill="#86a9fc"/>
<rect x="346.6" y="486.6" width="11.2" height="8.8" fill="#9ebeff"/>
<rect x="357.4" y="486.6" width="11.2" height="8.8" fill="#b5cdfa"/>
<rect x="368.3" y="486.6" width="11.2" height="8.8" fill="#cad8ef"/>
<rect x="379.1" y="486.6" width="11.2" height="8.8" fill="#dcdddd"/>
<rect x="389.9" y="486.6" width="11.2" height="8.8" fill="#edd2c3"/>
<rect x="400.7" y="486.6" width="11.2" height="8.8" fill="#f5c1a9"/>
<rect x="411.6" y="486.6" width="11.2" height="8.8" fill="#f7ac8e"/>
<rect x="422.4" y="486.6" width="11.2" height="8.8" fill="#f29274"/>
<rect x="433.2" y="486.6" width="11.2" height="8.8" fill="#e7745b"/>
<rect x="444" y="486.6" width="11.2" height="8.8" fill="#d65244"/>
<rect x="454.9" y="486.6" width="11.2" height="8.8" fill="#c0282f"/>
<polygon points="473.5,491 465.4,486.6 465.4,495.4" fill="#b40426"/>
<polygon points="295.5,491 303.3,486.6 465.7,486.6 473.5,491 465.7,495.4 303.3,495.4" fill="none" stroke="#000" stroke-width="0.8"/>
<line x1="303.3" y1="495.4" x2="303.3" y2="498.9" stroke="#000" stroke-width="0.8"/>
<text transform="translate(298.15,511.8) scale(1.01,1)" font-size="11.02">-1</text>
<line x1="343.9" y1="495.4" x2="343.9" y2="498.9" stroke="#000" stroke-width="0.8"/>
<text transform="translate(333.75,511.8) scale(1.05,1)" font-size="11.02">-0.5</text>
<line x1="384.5" y1="495.4" x2="384.5" y2="498.9" stroke="#000" stroke-width="0.8"/>
<text transform="translate(381.25,511.8) scale(0.99,1)" font-size="11.02">0</text>
<line x1="425.1" y1="495.4" x2="425.1" y2="498.9" stroke="#000" stroke-width="0.8"/>
<text transform="translate(416.98,511.8) scale(1.04,1)" font-size="11.02">0.5</text>
<line x1="465.7" y1="495.4" x2="465.7" y2="498.9" stroke="#000" stroke-width="0.8"/>
<text transform="translate(462.45,511.8) scale(0.95,1)" font-size="11.02">1</text>
<text transform="translate(63.07,258.4) scale(1.06,1)" font-size="13.25">mmol C m</text>
<text transform="translate(127.47,254.2) scale(1.16,1)" font-size="9.28">−3</text>
<text transform="translate(148.76,258.4) scale(1.13,1)" font-size="13.25">yr</text>
<text transform="translate(161.47,254.2) scale(1.16,1)" font-size="9.28">−1</text>
<text transform="translate(328.97,258.4) scale(1.06,1)" font-size="13.25">mmol C m</text>
<text transform="translate(393.37,254.2) scale(1.16,1)" font-size="9.28">−3</text>
<text transform="translate(414.66,258.4) scale(1.13,1)" font-size="13.25">yr</text>
<text transform="translate(427.37,254.2) scale(1.16,1)" font-size="9.28">−1</text>
<text transform="translate(96.04,529.6) scale(0.97,1)" font-size="13.25">%</text>
<text transform="translate(115.76,529.6) scale(1.13,1)" font-size="13.25">yr</text>
<text transform="translate(128.17,525.4) scale(1.16,1)" font-size="9.28">−1</text>
<text transform="translate(315.77,529.6) scale(1.06,1)" font-size="13.25">mmol C m</text>
<text transform="translate(380.67,525.4) scale(1.15,1)" font-size="9.28">−2</text>
<text transform="translate(397.93,529.6) scale(1.03,1)" font-size="13.25">d</text>
<text transform="translate(406.27,525.4) scale(1.16,1)" font-size="9.28">−1</text>
<text transform="translate(427.56,529.6) scale(1.13,1)" font-size="13.25">yr</text>
<text transform="translate(439.87,525.4) scale(1.16,1)" font-size="9.28">−1</text>
<rect x="196.6" y="538.6" width="78" height="18.8" rx="2" fill="#fff" fill-opacity="0.8" stroke="#d8d8d8" stroke-width="0.8"/>
<line x1="200.8" y1="547.4" x2="221.6" y2="547.4" stroke="#008000" stroke-width="1.2"/>
<text transform="translate(229.68,551) scale(1.04,1)" font-size="11.02">sic 10%</text>
<rect x="180.6" y="559.4" width="43.95" height="5.4" fill="#474747"/>
<rect x="224.5" y="559.4" width="43.95" height="5.4" fill="#a1a1a1"/>
<rect x="268.4" y="559.4" width="43.95" height="5.4" fill="#ebebeb"/>
<rect x="180.6" y="559.4" width="131.7" height="5.4" fill="none" stroke="#000" stroke-width="0.8"/>
<line x1="180.6" y1="564.8" x2="180.6" y2="568.3" stroke="#000" stroke-width="0.8"/>
<text transform="translate(173.2,582.6) scale(1.04,1)" font-size="13.25">10</text>
<line x1="224.5" y1="564.8" x2="224.5" y2="568.3" stroke="#000" stroke-width="0.8"/>
<text transform="translate(217.45,582.6) scale(1.04,1)" font-size="13.25">40</text>
<line x1="268.4" y1="564.8" x2="268.4" y2="568.3" stroke="#000" stroke-width="0.8"/>
<text transform="translate(261.17,582.6) scale(1.04,1)" font-size="13.25">70</text>
<line x1="312.3" y1="564.8" x2="312.3" y2="568.3" stroke="#000" stroke-width="0.8"/>
<text transform="translate(300.91,582.6) scale(1.05,1)" font-size="13.25">100</text>
<text transform="translate(165.76,599) scale(1.06,1)" font-size="13.25">Sea ice concentration (%)</text>
</svg>
</body></html>
